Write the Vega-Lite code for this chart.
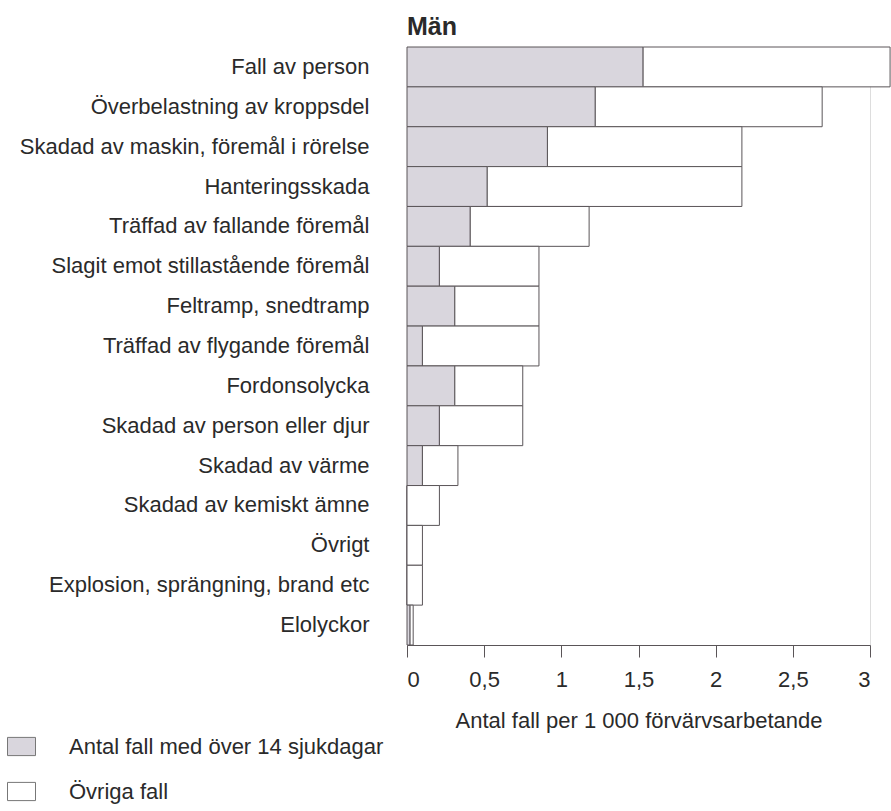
{
  "$schema": "https://vega.github.io/schema/vega-lite/v6.json",
  "autosize": {"type": "none"},
  "padding": {"left": 407, "top": 47, "right": 21, "bottom": 166},
  "width": 463,
  "height": 598,
  "background": "white",
  "title": {"text": "Män", "anchor": "start", "frame": "group", "baseline": "alphabetic", "offset": 12, "dy": 25, "fontSize": 25, "fontWeight": "bold", "font": "Liberation Sans", "color": "#2a2a2a"},
  "data": {"values": [
    {"orsak": "Fall av person", "typ": "Antal fall med över 14 sjukdagar", "varde": 1.53},
    {"orsak": "Fall av person", "typ": "Övriga fall", "varde": 1.60},
    {"orsak": "Överbelastning av kroppsdel", "typ": "Antal fall med över 14 sjukdagar", "varde": 1.22},
    {"orsak": "Överbelastning av kroppsdel", "typ": "Övriga fall", "varde": 1.47},
    {"orsak": "Skadad av maskin, föremål i rörelse", "typ": "Antal fall med över 14 sjukdagar", "varde": 0.91},
    {"orsak": "Skadad av maskin, föremål i rörelse", "typ": "Övriga fall", "varde": 1.26},
    {"orsak": "Hanteringsskada", "typ": "Antal fall med över 14 sjukdagar", "varde": 0.52},
    {"orsak": "Hanteringsskada", "typ": "Övriga fall", "varde": 1.65},
    {"orsak": "Träffad av fallande föremål", "typ": "Antal fall med över 14 sjukdagar", "varde": 0.41},
    {"orsak": "Träffad av fallande föremål", "typ": "Övriga fall", "varde": 0.77},
    {"orsak": "Slagit emot stillastående föremål", "typ": "Antal fall med över 14 sjukdagar", "varde": 0.21},
    {"orsak": "Slagit emot stillastående föremål", "typ": "Övriga fall", "varde": 0.645},
    {"orsak": "Feltramp, snedtramp", "typ": "Antal fall med över 14 sjukdagar", "varde": 0.31},
    {"orsak": "Feltramp, snedtramp", "typ": "Övriga fall", "varde": 0.545},
    {"orsak": "Träffad av flygande föremål", "typ": "Antal fall med över 14 sjukdagar", "varde": 0.10},
    {"orsak": "Träffad av flygande föremål", "typ": "Övriga fall", "varde": 0.755},
    {"orsak": "Fordonsolycka", "typ": "Antal fall med över 14 sjukdagar", "varde": 0.31},
    {"orsak": "Fordonsolycka", "typ": "Övriga fall", "varde": 0.44},
    {"orsak": "Skadad av person eller djur", "typ": "Antal fall med över 14 sjukdagar", "varde": 0.21},
    {"orsak": "Skadad av person eller djur", "typ": "Övriga fall", "varde": 0.54},
    {"orsak": "Skadad av värme", "typ": "Antal fall med över 14 sjukdagar", "varde": 0.10},
    {"orsak": "Skadad av värme", "typ": "Övriga fall", "varde": 0.23},
    {"orsak": "Skadad av kemiskt ämne", "typ": "Antal fall med över 14 sjukdagar", "varde": 0.0},
    {"orsak": "Skadad av kemiskt ämne", "typ": "Övriga fall", "varde": 0.21},
    {"orsak": "Övrigt", "typ": "Antal fall med över 14 sjukdagar", "varde": 0.0},
    {"orsak": "Övrigt", "typ": "Övriga fall", "varde": 0.10},
    {"orsak": "Explosion, sprängning, brand etc", "typ": "Antal fall med över 14 sjukdagar", "varde": 0.0},
    {"orsak": "Explosion, sprängning, brand etc", "typ": "Övriga fall", "varde": 0.10},
    {"orsak": "Elolyckor", "typ": "Antal fall med över 14 sjukdagar", "varde": 0.02},
    {"orsak": "Elolyckor", "typ": "Övriga fall", "varde": 0.02}
  ]},
  "mark": {"type": "bar", "stroke": "#5a5558", "strokeWidth": 1},
  "encoding": {
    "y": {
      "field": "orsak", "type": "nominal", "sort": null,
      "scale": {"paddingInner": 0, "paddingOuter": 0},
      "axis": {"title": null, "ticks": false, "domain": false, "labelPadding": 38, "labelLimit": 0, "labelFontSize": 22, "labelFont": "Liberation Sans", "labelColor": "#2a2a2a"}
    },
    "x": {
      "field": "varde", "type": "quantitative", "stack": "zero",
      "scale": {"domain": [0, 3], "nice": false},
      "axis": {
        "values": [0, 0.5, 1, 1.5, 2, 2.5, 3],
        "labelExpr": "replace(format(datum.value, '~g'), '.', ',')",
        "grid": false, "domainColor": "#5a5558", "tickColor": "#5a5558", "tickSize": 12,
        "labelPadding": 29, "labelBaseline": "alphabetic", "labelFontSize": 22, "labelFont": "Liberation Sans", "labelColor": "#2a2a2a",
        "title": "Antal fall per 1 000 förvärvsarbetande", "titleY": 82, "titleBaseline": "alphabetic",
        "titleFontSize": 22, "titleFont": "Liberation Sans", "titleFontWeight": "normal", "titleColor": "#2a2a2a"
      }
    },
    "color": {
      "field": "typ", "type": "nominal",
      "scale": {"domain": ["Antal fall med över 14 sjukdagar", "Övriga fall"], "range": ["#d9d6dd", "#ffffff"]},
      "legend": {
        "title": null, "orient": "none", "legendX": -400, "legendY": 685,
        "symbolType": "M-1,-0.65H1V0.65H-1Z", "symbolSize": 784,
        "symbolStrokeColor": "#777777", "symbolStrokeWidth": 1,
        "labelFontSize": 22, "labelFont": "Liberation Sans", "labelColor": "#2a2a2a",
        "labelOffset": 33, "rowPadding": 19, "labelLimit": 0
      }
    }
  }
}
